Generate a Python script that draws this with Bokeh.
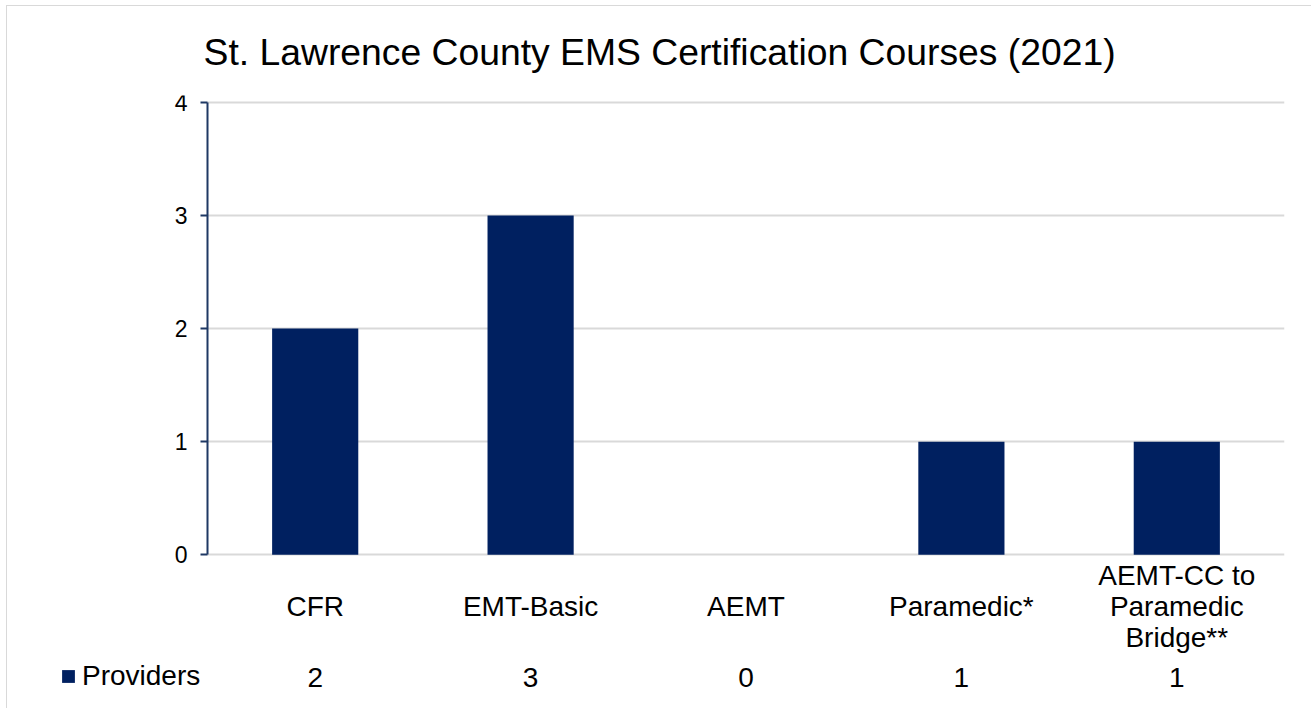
from bokeh.plotting import figure
from bokeh.models import Range1d, FixedTicker, LinearAxis, Legend, LegendItem, ColumnDataSource
from bokeh.core.properties import value
from bokeh.embed import file_html
from bokeh.resources import INLINE

# ---- data ----
categories = ["CFR", "EMT-Basic", "AEMT", "Paramedic*", "AEMT-CC to\nParamedic\nBridge**"]
providers = [2, 3, 0, 1, 1]
y_ticks = [0, 1, 2, 3, 4]
series_name = "Providers"
title_text = "St. Lawrence County EMS Certification Courses (2021)"

NAVY = "#002060"
GRID = "#D9D9D9"
FONT = "Liberation Sans"

# canvas sits inside a 1px chart-area border offset (6,5) from the page corner
W, H = 1305, 703
FRAME_L, FRAME_T = 33, 88           # frame extends down to the data-table row
PLOT_L, PLOT_R, PLOT_T, PLOT_B = 200, 1277, 95, 548   # screen px of x=0, x=N, y=max, y=0
n = len(categories)
ymax = max(y_ticks)
ppu_x = (PLOT_R - PLOT_L) / n
ppu_y = (PLOT_B - PLOT_T) / ymax
x_lo = -(PLOT_L - FRAME_L) / ppu_x
y_lo = -(H - PLOT_B) / ppu_y
y_hi = ymax + (PLOT_T - FRAME_T) / ppu_y
CAT_Y = -52 / ppu_y      # row of category labels (below baseline)
VAL_Y = -123 / ppu_y     # row of the data table values

p = figure(width=W, height=H, output_backend="svg", toolbar_location=None,
           x_range=Range1d(x_lo, n), y_range=Range1d(y_lo, y_hi),
           x_axis_location=None, y_axis_location=None,
           min_border_left=FRAME_L, min_border_right=W - PLOT_R,
           min_border_top=FRAME_T, min_border_bottom=0,
           title=title_text)
p.styles = {"margin-left": "6px", "margin-top": "5px",
            "border-left": "1px solid #D9D9D9", "border-top": "1px solid #D9D9D9"}
p.outline_line_color = None
p.background_fill_color = "white"
p.border_fill_color = "white"

p.title.text_font = FONT
p.title.text_font_size = "37.3px"
p.title.text_font_style = "normal"
p.title.text_color = "#000000"
p.title.align = "left"
p.title.offset = PLOT_L - FRAME_L - 4
p.title.standoff = 45

xs = [i + 0.5 for i in range(n)]
src = ColumnDataSource(dict(x=xs, top=providers, cat=categories,
                            val=[str(v) for v in providers]))

bars = p.vbar(x="x", top="top", width=0.4, source=src, fill_color=NAVY, line_color=None)

# y axis at x = 0
yax = LinearAxis(ticker=FixedTicker(ticks=y_ticks), fixed_location=0, bounds=(0, ymax),
                 axis_line_color="#1F3864", axis_line_width=2,
                 major_tick_line_color="#1F3864", major_tick_line_width=2,
                 major_tick_out=7, major_tick_in=0, minor_tick_line_color=None,
                 major_label_text_font=FONT, major_label_text_font_size="23px",
                 major_label_text_color="#000000", major_label_standoff=13)
p.add_layout(yax, "left")

p.ygrid.ticker = FixedTicker(ticks=y_ticks)
p.ygrid.cross_bounds = (0, n)
p.ygrid.grid_line_color = GRID
p.ygrid.grid_line_width = 2
p.xgrid.grid_line_color = None

# category labels and data-table values
p.text(x="x", y=CAT_Y, text="cat", source=src, text_font=value(FONT),
       text_font_size="28px", text_color="#000000", text_align="center",
       text_baseline="middle", text_line_height=1.0)
p.text(x="x", y=VAL_Y, text="val", source=src, text_font=value(FONT),
       text_font_size="28px", text_color="#000000", text_align="center",
       text_baseline="middle")

legend = Legend(items=[LegendItem(label=series_name, renderers=[bars])],
                location=(20, 17), padding=0, margin=0, spacing=0,
                glyph_width=16, glyph_height=16, label_standoff=6,
                label_text_font=FONT, label_text_font_size="28px", label_text_color="#000000",
                border_line_color=None, background_fill_alpha=0)
p.add_layout(legend, "center")

open("out.html", "w").write(file_html(p, INLINE))
